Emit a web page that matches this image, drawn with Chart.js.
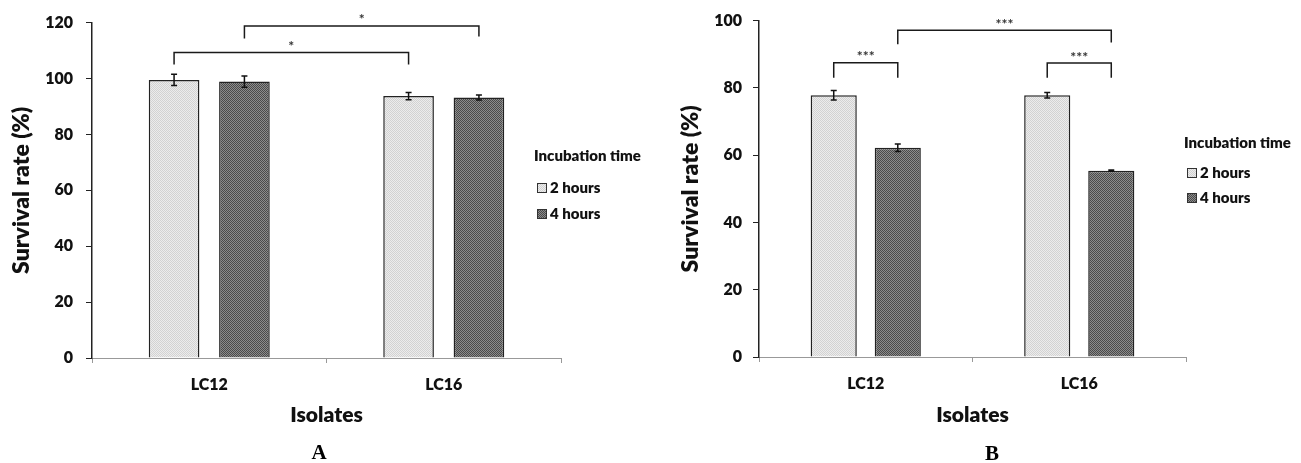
<!DOCTYPE html>
<html>
<head>
<meta charset="utf-8">
<script src="https://cdn.jsdelivr.net/npm/chart.js@4/dist/chart.umd.min.js"></script>
<style>
  body { margin: 0; background: #fff; overflow: hidden; }
  .panel { position: absolute; top: 0; }
  .tag { position: absolute; font-family: "Liberation Serif", serif; font-weight: bold; font-size: 21px; line-height: 21px; color: #000; transform: translateX(-50%); }
</style>
</head>
<body>
<div class="panel" style="left:0"><canvas id="chartA" width="650" height="463"></canvas></div>
<div class="panel" style="left:650px"><canvas id="chartB" width="651" height="463"></canvas></div>
<div class="tag" style="left:319px; top:442px">A</div>
<div class="tag" style="left:992px; top:443px">B</div>
<script>
// categories and series
const isolates = ['LC12', 'LC16'];
const seriesNames = ['2 hours', '4 hours'];

// panel A values (survival %) and error bars
const survivalA2h = [99.5, 93.7];
const survivalA4h = [98.9, 93.2];
const errorA2h = [2.0, 1.3];
const errorA4h = [2.0, 0.9];

// panel B values
const survivalB2h = [77.8, 77.8];
const survivalB4h = [62.2, 55.4];
const errorB2h = [1.4, 0.8];
const errorB4h = [1.1, 0.2];

// significance brackets: [dataset, index] ends, bar y value, drop end values, label
const bracketsA = [
  { a: [0, 0], b: [0, 1], line: 109.3, dropA: 105, dropB: 105, text: '*' },
  { a: [1, 0], b: [1, 1], line: 118.8, dropA: 114.3, dropB: 115, text: '*' }
];
const bracketsB = [
  { a: [0, 0], b: [1, 0], line: 87.5, dropA: 83, dropB: 83, text: '***' },
  { a: [1, 0], b: [1, 1], line: 97.1, dropA: 93, dropB: 93.5, text: '***' },
  { a: [0, 1], b: [1, 1], line: 87.4, dropA: 83, dropB: 83, text: '***' }
];

const FONT = 'Lato';
const WEIGHT = '800';

function makePattern(c1, c2) {
  let c = document.createElement('canvas');
  c.width = 2; c.height = 2;
  let g = c.getContext('2d');
  g.fillStyle = c1; g.fillRect(0, 0, 2, 2);
  g.fillStyle = c2; g.fillRect(0, 0, 1, 1); g.fillRect(1, 1, 1, 1);
  return g.createPattern(c, 'repeat');
}
const lightFill = makePattern('#ececec', '#d2d2d2');
const darkFill = makePattern('#8c8c8c', '#4a4a4a');

function extras(errors, brackets, legendY) {
  return {
    id: 'extras',
    afterDatasetsDraw(chart) {
      let ctx = chart.ctx, y = chart.scales.y;
      ctx.save();
      // error bars
      ctx.strokeStyle = '#111';
      ctx.lineWidth = 1.5;
      errors.forEach((errs, di) => {
        let meta = chart.getDatasetMeta(di);
        meta.data.forEach((bar, i) => {
          let v = chart.data.datasets[di].data[i];
          let top = y.getPixelForValue(v + errs[i]);
          let bot = y.getPixelForValue(v - errs[i]);
          ctx.beginPath();
          ctx.moveTo(bar.x, top); ctx.lineTo(bar.x, bot);
          ctx.moveTo(bar.x - 3, top); ctx.lineTo(bar.x + 3, top);
          ctx.moveTo(bar.x - 3, bot); ctx.lineTo(bar.x + 3, bot);
          ctx.stroke();
        });
      });
      // brackets
      ctx.strokeStyle = '#1a1a1a';
      ctx.lineWidth = 1.5;
      brackets.forEach(br => {
        let xa = chart.getDatasetMeta(br.a[0]).data[br.a[1]].x;
        let xb = chart.getDatasetMeta(br.b[0]).data[br.b[1]].x;
        let yl = y.getPixelForValue(br.line);
        ctx.beginPath();
        ctx.moveTo(xa, y.getPixelForValue(br.dropA));
        ctx.lineTo(xa, yl);
        ctx.lineTo(xb, yl);
        ctx.lineTo(xb, y.getPixelForValue(br.dropB));
        ctx.stroke();
        ctx.fillStyle = '#333';
        ctx.font = 'bold 14px ' + FONT;
        ctx.textAlign = 'center';
        ctx.textBaseline = 'bottom';
        ctx.fillText(br.text, (xa + xb) / 2, yl + 1);
      });
      ctx.restore();
    },
    afterDraw(chart) {
      let ctx = chart.ctx;
      ctx.save();
      ctx.fillStyle = '#111';
      ctx.font = WEIGHT + ' 15px ' + FONT;
      ctx.textAlign = 'left';
      ctx.textBaseline = 'middle';
      ctx.fillText('Incubation time', 534, legendY[0]);
      chart.data.datasets.forEach((ds, i) => {
        let cy = legendY[i + 1];
        ctx.fillStyle = ds.backgroundColor;
        ctx.fillRect(537, cy - 5, 10, 10);
        ctx.strokeStyle = '#333';
        ctx.lineWidth = 1;
        ctx.strokeRect(537.5, cy - 4.5, 9, 9);
        ctx.fillStyle = '#111';
        ctx.fillText(ds.label, 550, cy);
      });
      ctx.restore();
    }
  };
}

function buildChart(canvas, s2h, s4h, e2h, e4h, brackets, setup) {
  return new Chart(canvas, {
    type: 'bar',
    data: {
      labels: isolates,
      datasets: [
        { label: seriesNames[0], data: s2h, backgroundColor: lightFill, borderColor: '#222', borderWidth: 1.5 },
        { label: seriesNames[1], data: s4h, backgroundColor: darkFill, borderColor: '#222', borderWidth: 1.5 }
      ]
    },
    options: {
      responsive: false,
      animation: false,
      categoryPercentage: 0.6,
      barPercentage: 0.72,
      layout: { padding: setup.padding },
      plugins: { legend: { display: false }, tooltip: { enabled: false } },
      scales: {
        x: {
          afterFit: s => { s.height = setup.xHeight; },
          border: { color: '#999', width: 1 },
          grid: { offset: true, drawOnChartArea: false, drawTicks: true, tickLength: 5, color: '#999' },
          ticks: { color: '#111', padding: 12, font: { family: FONT, weight: WEIGHT, size: 16 } },
          title: { display: true, text: 'Isolates', color: '#111', padding: { top: 0, bottom: 35 }, font: { family: FONT, weight: WEIGHT, size: 21 } }
        },
        y: {
          min: 0,
          max: setup.yMax,
          afterFit: s => { s.width = setup.yWidth; },
          border: { color: '#222', width: 1.5 },
          grid: { drawOnChartArea: false, drawTicks: true, tickLength: 6, color: '#222' },
          ticks: { stepSize: 20, color: '#111', padding: setup.yTickPad, font: { family: FONT, weight: WEIGHT, size: 16 } },
          title: { display: true, text: 'Survival rate (%)', color: '#111', padding: { top: setup.yTitlePad, bottom: 0 }, font: { family: FONT, weight: WEIGHT, size: 23 } }
        }
      }
    },
    plugins: [extras([e2h, e4h], brackets, setup.legendY)]
  });
}

buildChart(document.getElementById('chartA'), survivalA2h, survivalA4h, errorA2h, errorA4h, bracketsA, {
  padding: { top: 21, right: 89, left: 0, bottom: 0 },
  xHeight: 105, yWidth: 92, yMax: 120, yTickPad: 13, yTitlePad: 8,
  legendY: [156, 188, 214]
});

buildChart(document.getElementById('chartB'), survivalB2h, survivalB4h, errorB2h, errorB4h, bracketsB, {
  padding: { top: 18, right: 115, left: 0, bottom: 0 },
  xHeight: 106, yWidth: 109, yMax: 100, yTickPad: 11, yTitlePad: 27,
  legendY: [143, 173, 198]
});
</script>
</body>
</html>
